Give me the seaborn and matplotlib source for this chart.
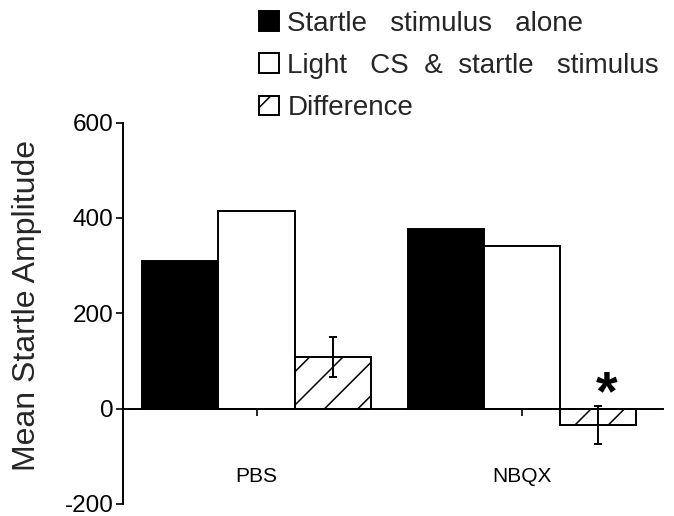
import numpy as np
import pandas as pd
import matplotlib
matplotlib.use("Agg")
import matplotlib.pyplot as plt
import matplotlib.ticker as mticker
import seaborn as sns

sns.set_theme(style="white")
plt.rcParams["font.family"] = ["Liberation Sans", "DejaVu Sans"]
plt.rcParams["hatch.linewidth"] = 1.1

# ── data ─────────────────────────────────────────────────────────────
groups = ["PBS", "NBQX"]
conditions = ["Startle stimulus alone", "Light CS & startle stimulus", "Difference"]
legend_labels = ["Startle   stimulus   alone", "Light   CS  &  startle   stimulus", "Difference"]
startle_alone = [310, 376]
light_cs = [414, 340]
difference = [108, -35]
difference_err = [42, 40]

df = pd.DataFrame({
    "group": groups * 3,
    "condition": np.repeat(conditions, len(groups)),
    "value": startle_alone + light_cs + difference,
})

fig = plt.figure(figsize=(6.74, 5.16), dpi=100)
ax = fig.add_axes([123 / 674, 1 - 504 / 516, 540 / 674, 381.5 / 516])

sns.barplot(data=df, x="group", y="value", hue="condition", order=groups,
            hue_order=conditions, width=0.862, errorbar=None,
            palette=["black", "white", "white"], edgecolor="black",
            linewidth=1.4, saturation=1, legend=False, ax=ax)

# hatch the difference bars + error bars
diff_bars = ax.containers[2]
for p in diff_bars:
    p.set_hatch("/")
centers = [p.get_x() + p.get_width() / 2 for p in diff_bars]
ax.errorbar(centers, difference, yerr=difference_err, fmt="none",
            ecolor="black", elinewidth=1.4, capsize=3, capthick=1.4, zorder=5)

# significance star
ax.text(centers[1] + 0.03, 27, "*", ha="center", va="center",
        fontsize=40, fontweight="bold", color="black")

# ── axes styling ─────────────────────────────────────────────────────
ax.set_xlim(-0.503, 1.531)
ax.set_ylim(-200, 600)
ax.set_yticks([-200, 0, 200, 400, 600])
ax.yaxis.set_major_formatter(mticker.FuncFormatter(lambda v, _: f"{int(v)}"))
ax.set_xlabel("")
ax.set_ylabel("Mean Startle Amplitude", fontsize=23)
ax.yaxis.set_label_coords(-0.15, 0.52)

for s in ["top", "right"]:
    ax.spines[s].set_visible(False)
ax.spines["bottom"].set_position(("data", 0))
ax.spines["left"].set_bounds(-200, 600)
for s in ["left", "bottom"]:
    ax.spines[s].set_color("black")
    ax.spines[s].set_linewidth(1.4)

ax.tick_params(axis="y", direction="out", length=5, width=1.2, labelsize=17.5,
               pad=2, left=True, colors="black")
ax.tick_params(axis="x", direction="out", length=5, width=1.2, labelsize=15,
               pad=37, bottom=True, colors="black")

# legend
handles = [c[0] for c in ax.containers]
fig.legend(handles, legend_labels, loc="upper left",
           bbox_to_anchor=(259 / 674, 1 - 11 / 516), frameon=False,
           fontsize=20, handlelength=0.72, handleheight=0.72,
           handletextpad=0.3, labelspacing=0.58, borderpad=0,
           borderaxespad=0)

fig.savefig("out.png", dpi=100)
